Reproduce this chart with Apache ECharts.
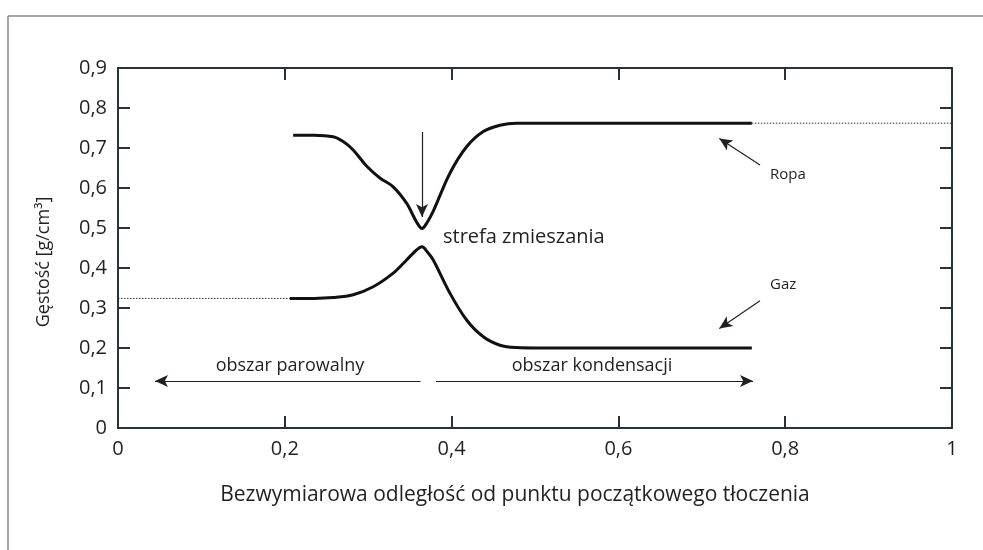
<!DOCTYPE html>
<html><head><meta charset="utf-8">
<script src="https://cdn.jsdelivr.net/npm/echarts@6/dist/echarts.min.js"></script>
<style>html,body{margin:0;padding:0;background:#fff}#c{width:983px;height:550px}</style>
</head><body><div id="c"></div>
<script>
// ---- data ----
const ropaX = [0.21, 0.235, 0.258, 0.27, 0.282, 0.298, 0.314, 0.330, 0.346, 0.358, 0.3645, 0.371, 0.378, 0.398, 0.418, 0.438, 0.458, 0.478, 0.50, 0.76];
const ropaY = [0.732, 0.732, 0.728, 0.716, 0.695, 0.655, 0.625, 0.603, 0.562, 0.515, 0.499, 0.515, 0.542, 0.637, 0.703, 0.741, 0.757, 0.762, 0.762, 0.762];
const gazX = [0.206, 0.235, 0.258, 0.282, 0.306, 0.330, 0.346, 0.358, 0.3645, 0.371, 0.378, 0.398, 0.418, 0.438, 0.458, 0.478, 0.50, 0.76];
const gazY = [0.324, 0.324, 0.326, 0.333, 0.353, 0.387, 0.42, 0.445, 0.453, 0.44, 0.42, 0.337, 0.27, 0.228, 0.207, 0.201, 0.2, 0.2];
const gazDotX = [0, 0.206];
const gazDotY = [0.324, 0.324];
const ropaDotX = [0.76, 1.0];
const ropaDotY = [0.762, 0.762];
const xTicks = [0, 0.2, 0.4, 0.6, 0.8, 1];
const yTicks = [0, 0.1, 0.2, 0.3, 0.4, 0.5, 0.6, 0.7, 0.8, 0.9];
// annotation arrows (data coords): [x0,y0,x1,y1], arrowhead at end
const arrows = [
  [0.3645, 0.74, 0.3645, 0.5275],
  [0.7698, 0.6575, 0.721, 0.724],
  [0.7698, 0.318, 0.721, 0.249],
  [0.3627, 0.1175, 0.0444, 0.1175],
  [0.3813, 0.1175, 0.7614, 0.1175]
];
const labels = {
  title: 'Bezwymiarowa odległość od punktu początkowego tłoczenia',
  ytitle: 'Gęstość [g/cm³]',
  zone: 'strefa zmieszania',
  ropa: 'Ropa', gaz: 'Gaz',
  left: 'obszar parowalny', right: 'obszar kondensacji'
};

const zip = (a, b) => a.map((v, i) => [v, b[i]]);
const FONT = 'Open Sans';
const TXT = '#231f20';
const AX = '#25343a';
const comma = v => String(+v.toFixed(1)).replace('.', ',');

const chart = echarts.init(document.getElementById('c'), null, {renderer: 'canvas'});
const axBase = {
  type: 'value', min: 0,
  axisLine: {show: true, onZero: false, lineStyle: {color: AX, width: 2}},
  axisTick: {show: true, inside: true, length: 12, lineStyle: {color: AX, width: 2}},
  splitLine: {show: false}
};
chart.setOption({
  animation: false,
  grid: {left: 118, right: 31, top: 68, bottom: 122},
  xAxis: [
    Object.assign({}, axBase, {max: 1, interval: 0.2, position: 'bottom',
      axisLabel: {color: TXT, fontFamily: FONT, fontSize: 20, margin: 11, formatter: comma}}),
    Object.assign({}, axBase, {max: 1, interval: 0.2, position: 'top', axisLabel: {show: false}})
  ],
  yAxis: [
    Object.assign({}, axBase, {max: 0.9, interval: 0.1, position: 'left',
      axisLabel: {color: TXT, fontFamily: FONT, fontSize: 20, margin: 11, formatter: comma}}),
    Object.assign({}, axBase, {max: 0.9, interval: 0.1, position: 'right', axisLabel: {show: false}})
  ],
  series: [
    {type: 'line', data: zip(ropaX, ropaY), smooth: 0.35, showSymbol: false, lineStyle: {color: '#111', width: 3}},
    {type: 'line', data: zip(gazX, gazY), smooth: 0.35, showSymbol: false, lineStyle: {color: '#111', width: 3}},
    {type: 'line', data: zip(gazDotX, gazDotY), showSymbol: false, lineStyle: {color: '#333', width: 1, type: [1.5, 1.5]}},
    {type: 'line', data: zip(ropaDotX, ropaDotY), showSymbol: false, lineStyle: {color: '#333', width: 1, type: [1.5, 1.5]},
      markLine: {
        silent: true, animation: false,
        symbol: ['none', 'arrow'], symbolSize: [9, 13],
        lineStyle: {color: TXT, width: 1.2, type: 'solid'},
        label: {show: false},
        data: arrows.map(a => [{coord: [a[0], a[1]]}, {coord: [a[2], a[3]]}])
      }}
  ],
  graphic: [
    {type: 'line', shape: {x1: 8, y1: 16, x2: 983, y2: 16}, style: {stroke: '#8a8a8a', lineWidth: 1.5}},
    {type: 'line', shape: {x1: 8, y1: 16, x2: 8, y2: 550}, style: {stroke: '#8a8a8a', lineWidth: 1.5}},
    {type: 'text', x: 515, y: 495, style: {text: labels.title, fill: TXT, font: '21px "Open Sans"', textAlign: 'center', textVerticalAlign: 'middle'}},
    {type: 'text', x: 44, y: 262, rotation: Math.PI / 2, style: {text: labels.ytitle, fill: TXT, font: '18px "Open Sans"', textAlign: 'center', textVerticalAlign: 'middle'}},
    {type: 'text', x: 443, y: 237, style: {text: labels.zone, fill: TXT, font: '20px "Open Sans"', textAlign: 'left', textVerticalAlign: 'middle'}},
    {type: 'text', x: 770, y: 175, style: {text: labels.ropa, fill: TXT, font: '15px "Open Sans"', textAlign: 'left', textVerticalAlign: 'middle'}},
    {type: 'text', x: 770, y: 285, style: {text: labels.gaz, fill: TXT, font: '15px "Open Sans"', textAlign: 'left', textVerticalAlign: 'middle'}},
    {type: 'text', x: 290, y: 366, style: {text: labels.left, fill: TXT, font: '18px "Open Sans"', textAlign: 'center', textVerticalAlign: 'middle'}},
    {type: 'text', x: 592, y: 366, style: {text: labels.right, fill: TXT, font: '18px "Open Sans"', textAlign: 'center', textVerticalAlign: 'middle'}}
  ]
});
</script></body></html>
